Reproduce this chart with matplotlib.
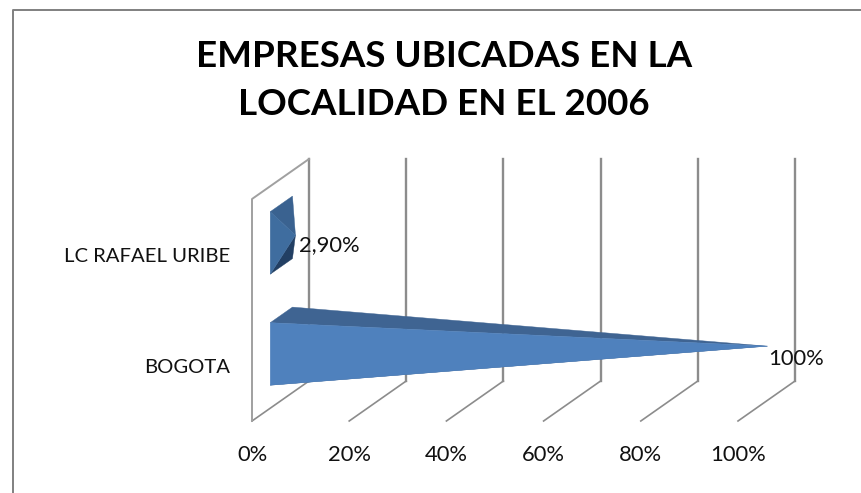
"""EMPRESAS UBICADAS EN LA LOCALIDAD EN EL 2006 - 3D pyramid bars, drawn in 2D."""
import matplotlib

matplotlib.use("Agg")
import matplotlib.pyplot as plt
from matplotlib.patches import Polygon

W, H = 861, 493

title_lines = ["EMPRESAS UBICADAS EN LA", "LOCALIDAD EN EL 2006"]
categories = ["BOGOTA", "LC RAFAEL URIBE"]
values = [100, 2.9]
value_labels = ["100%", "2,90%"]
ticks = [0, 20, 40, 60, 80, 100]
tick_labels = ["0%", "20%", "40%", "60%", "80%", "100%"]

# oblique box of the 3D chart, in pixels
FRONT_X0, FRONT_Y = 252, 421
DEPTH_DX, DEPTH_DY = 57, -40
UNIT = 4.86            # px per percent
WALL_H = 222
BAR_BOTTOM = [23, 134]  # height of the bar's bottom edge above the floor at its front face
BAR_H = 62.5
BAR_DEPTH = (0.32, 0.71)
LABEL_OFFSET = [(1, 13), (4, 10)]  # value label offset from the bar tip
GRID_COLOR = "#8c8c8c"
FRAME_COLOR = "#808080"


def project(value, depth, height):
    """(percent, depth 0-1, height in px) -> pixel position."""
    return (FRONT_X0 + value * UNIT + depth * DEPTH_DX,
            FRONT_Y + depth * DEPTH_DY - height)


def draw_pyramid(ax, value, bottom, colors):
    d0, d1 = BAR_DEPTH
    dm = (d0 + d1) / 2
    front_bot = project(0, d0, bottom)
    front_top = project(0, d0, bottom + BAR_H)
    back_top = project(0, d1, bottom + BAR_H)
    back_bot = project(0, d1, bottom)
    tip = project(value, dm, bottom + BAR_H / 2)
    faces = [
        ([front_top, back_top, tip], colors[1]),
        ([back_bot, front_bot, tip], colors[2]),
        ([front_bot, front_top, tip], colors[0]),
    ]
    for pts, col in faces:
        ax.add_patch(Polygon(pts, closed=True, fc=col, ec=col, lw=0.3, zorder=3))
    return tip


def main():
    plt.rcParams["font.family"] = ["Lato", "DejaVu Sans"]
    fig = plt.figure(figsize=(W / 100, H / 100), dpi=100)
    ax = fig.add_axes([0, 0, 1, 1])
    ax.set_xlim(0, W)
    ax.set_ylim(H, 0)
    ax.axis("off")

    # frame of the pasted chart: only top and left edges are in the picture
    ax.plot([W, 12.5, 12.5], [10, 10, H], color=FRAME_COLOR, lw=1.4, zorder=1)

    # walls and floor lines
    for t, lab in zip(ticks, tick_labels):
        fx, fy = project(t, 0, 0)
        bx, by = project(t, 1, 0)
        tx, ty = project(t, 1, WALL_H)
        ax.plot([fx, bx], [fy, by], color=GRID_COLOR, lw=1.2, zorder=1)
        ax.plot([bx, tx], [by, ty], color=GRID_COLOR, lw=1.7, zorder=1)
        ax.text(fx, 455, lab, ha="center", va="center", fontsize=15.8, color="#111111")
    fx, fy = project(0, 0, 0)
    ftx, fty = project(0, 0, WALL_H)
    tx, ty = project(0, 1, WALL_H)
    ax.plot([fx, ftx, tx], [fy, fty, ty], color="#a0a0a0", lw=1.4, zorder=1)

    # bars
    palettes = [("#4F81BD", "#3F6492", "#3F6492"), ("#3F6D9F", "#3A6290", "#223F63")]
    for cat, val, lab, bottom, pal, off in zip(categories, values, value_labels,
                                               BAR_BOTTOM, palettes, LABEL_OFFSET):
        tip = draw_pyramid(ax, val, bottom, pal)
        ax.text(tip[0] + off[0], tip[1] + off[1], lab, ha="left", va="center",
                fontsize=15.8, color="#111111", zorder=4)
        cy = project(0, BAR_DEPTH[0], bottom + BAR_H / 2)[1]
        ax.text(230, cy + 14, cat, ha="right", va="center", fontsize=14.6, color="#111111")

    for line, y in zip(title_lines, (67, 115)):
        ax.text(444, y, line, ha="center", va="baseline", fontsize=26.5,
                fontweight="bold", color="#000000")

    fig.savefig("out.png", dpi=100, facecolor="white")


if __name__ == "__main__":
    main()
